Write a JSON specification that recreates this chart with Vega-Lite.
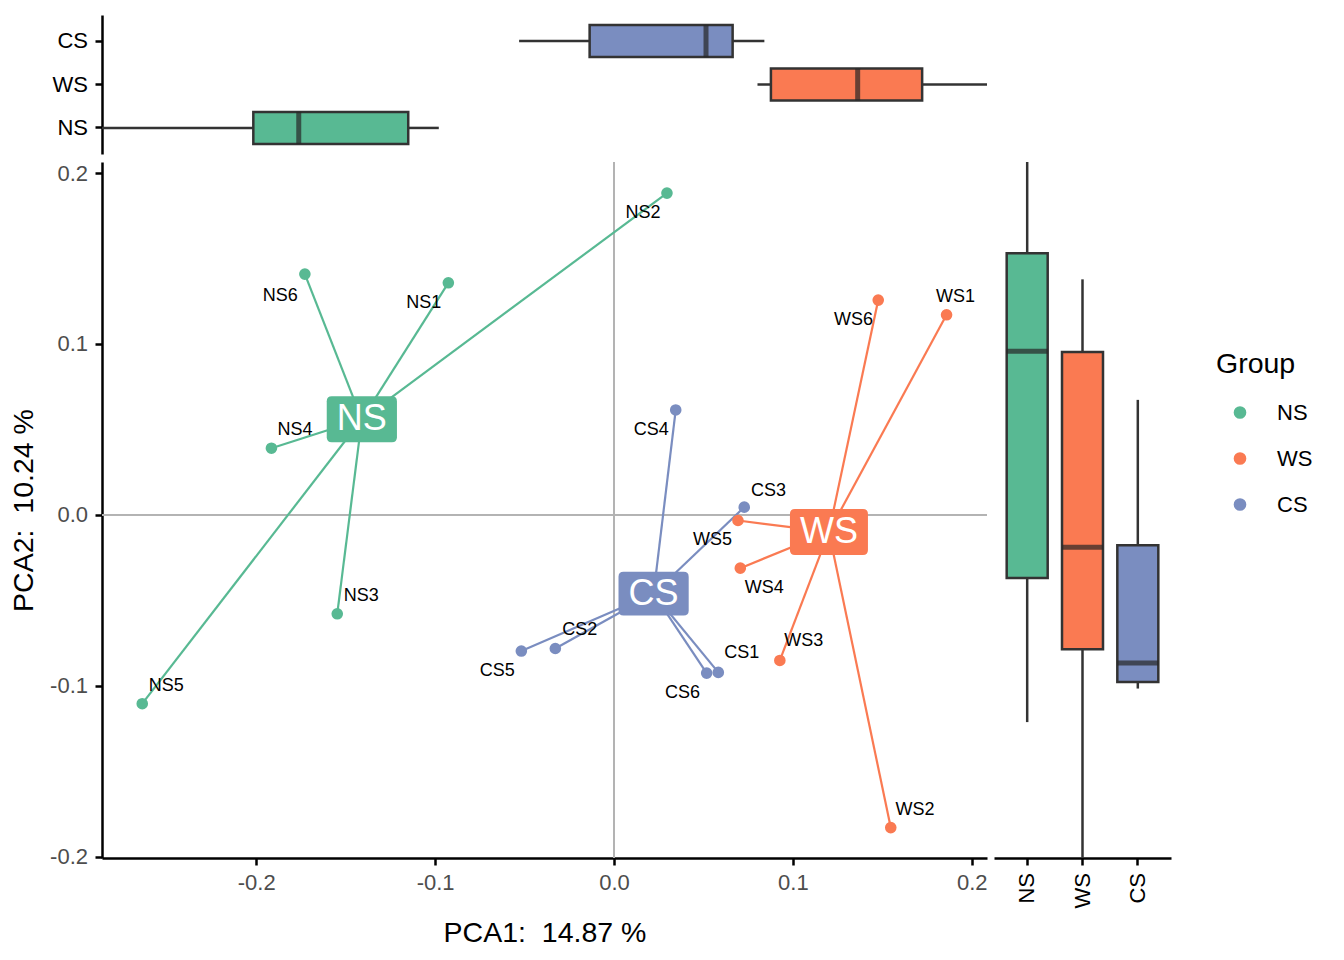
{
  "$schema": "https://vega.github.io/schema/vega-lite/v6.json",
  "padding": {"left": 9, "top": 15, "right": 5, "bottom": 5},
  "config": {
    "view": {"stroke": null},
    "font": "Liberation Sans",
    "locale": {"number": {"decimal": ".", "thousands": ",", "grouping": [3], "currency": ["$", ""], "minus": "-"}},
    "axis": {
      "grid": false, "domainColor": "black", "domainWidth": 2.5, "tickColor": "black", "tickWidth": 2.5,
      "tickSize": 7, "labelPadding": 7.5, "labelFontSize": 22, "labelColor": "black",
      "titleFontSize": 28.5, "titleFontWeight": "normal", "titleColor": "black", "labelFlush": false, "labelOverlap": false
    }
  },
  "datasets": {
    "pts": [
      {"id": "NS1", "Group": "NS", "x": -0.0926, "y": 0.1358, "lx": -0.1063, "ly": 0.1238},
      {"id": "NS2", "Group": "NS", "x": 0.0296, "y": 0.1883, "lx": 0.0162, "ly": 0.1766},
      {"id": "NS3", "Group": "NS", "x": -0.1547, "y": -0.0579, "lx": -0.1413, "ly": -0.0474},
      {"id": "NS4", "Group": "NS", "x": -0.1915, "y": 0.0390, "lx": -0.1783, "ly": 0.0497},
      {"id": "NS5", "Group": "NS", "x": -0.2637, "y": -0.1105, "lx": -0.2503, "ly": -0.1000},
      {"id": "NS6", "Group": "NS", "x": -0.1728, "y": 0.1409, "lx": -0.1866, "ly": 0.1282},
      {"id": "WS1", "Group": "WS", "x": 0.1859, "y": 0.1171, "lx": 0.1909, "ly": 0.1275},
      {"id": "WS2", "Group": "WS", "x": 0.1547, "y": -0.1830, "lx": 0.1682, "ly": -0.1725},
      {"id": "WS3", "Group": "WS", "x": 0.0927, "y": -0.0852, "lx": 0.1061, "ly": -0.0741},
      {"id": "WS4", "Group": "WS", "x": 0.0706, "y": -0.0312, "lx": 0.0840, "ly": -0.0429},
      {"id": "WS5", "Group": "WS", "x": 0.0693, "y": -0.0033, "lx": 0.0551, "ly": -0.0146},
      {"id": "WS6", "Group": "WS", "x": 0.1477, "y": 0.1257, "lx": 0.1339, "ly": 0.1140},
      {"id": "CS1", "Group": "CS", "x": 0.0583, "y": -0.0922, "lx": 0.0714, "ly": -0.0811},
      {"id": "CS2", "Group": "CS", "x": -0.0328, "y": -0.0782, "lx": -0.0191, "ly": -0.0674},
      {"id": "CS3", "Group": "CS", "x": 0.0728, "y": 0.0045, "lx": 0.0863, "ly": 0.0142},
      {"id": "CS4", "Group": "CS", "x": 0.0345, "y": 0.0614, "lx": 0.0208, "ly": 0.0497},
      {"id": "CS5", "Group": "CS", "x": -0.0518, "y": -0.0797, "lx": -0.0653, "ly": -0.0911},
      {"id": "CS6", "Group": "CS", "x": 0.0518, "y": -0.0926, "lx": 0.0383, "ly": -0.1043}
    ]
  },
  "bounds": "flush",
  "spacing": 8,
  "resolve": {"legend": {"color": "independent"}},
  "vconcat": [
    {
      "width": 885,
      "height": 139,
      "data": {"name": "pts"},
      "mark": {
        "type": "boxplot", "extent": 1.5, "outliers": false, "ticks": false, "size": 32,
        "box": {"stroke": "#333333", "strokeWidth": 2.5},
        "median": {"color": "#262626", "thickness": 5},
        "rule": {"color": "#333333", "strokeWidth": 2.5}
      },
      "encoding": {
        "x": {"field": "x", "type": "quantitative", "scale": {"nice": false, "zero": false, "padding": 0}, "axis": null},
        "y": {"field": "Group", "type": "nominal", "sort": ["CS", "WS", "NS"], "scale": {"paddingInner": 0, "paddingOuter": 0.1}, "axis": {"title": null}},
        "color": {"field": "Group", "type": "nominal", "scale": {"domain": ["NS", "WS", "CS"], "range": ["#58B993", "#FA7A52", "#7A8DC0"]}, "legend": null}
      }
    },
    {
      "bounds": "flush",
      "spacing": 7,
      "resolve": {"legend": {"color": "independent"}},
      "hconcat": [
        {
          "width": 885,
          "height": 696,
          "data": {"name": "pts"},
          "layer": [
            {
              "mark": {"type": "rule", "color": "#B3B3B3", "strokeWidth": 1.5},
              "encoding": {
                "x": {"datum": 0, "type": "quantitative", "scale": {"domain": [-0.2862, 0.2085], "nice": false, "zero": false}, "title": "PCA1: \u00a014.87 %"}
              }
            },
            {
              "mark": {"type": "rule", "color": "#B3B3B3", "strokeWidth": 1.5},
              "encoding": {
                "y": {"datum": 0, "type": "quantitative", "scale": {"domain": [-0.2008, 0.2065], "nice": false, "zero": false}, "title": "PCA2: \u00a010.24 %"}
              }
            },
            {
              "transform": [
                {"joinaggregate": [{"op": "mean", "field": "x", "as": "cx"}, {"op": "mean", "field": "y", "as": "cy"}], "groupby": ["Group"]}
              ],
              "mark": {"type": "rule", "strokeWidth": 2.2},
              "encoding": {
                "x": {"field": "x", "type": "quantitative", "scale": {"domain": [-0.2862, 0.2085], "nice": false, "zero": false}, "title": "PCA1: \u00a014.87 %"},
                "y": {"field": "y", "type": "quantitative", "scale": {"domain": [-0.2008, 0.2065], "nice": false, "zero": false}, "title": "PCA2: \u00a010.24 %"},
                "x2": {"field": "cx"},
                "y2": {"field": "cy"},
                "stroke": {"field": "Group", "type": "nominal", "scale": {"domain": ["NS", "WS", "CS"], "range": ["#58B993", "#FA7A52", "#7A8DC0"]}, "legend": null}
              }
            },
            {
              "mark": {"type": "point", "filled": true, "opacity": 1, "size": 135},
              "encoding": {
                "x": {
                  "field": "x", "type": "quantitative", "scale": {"domain": [-0.2862, 0.2085], "nice": false, "zero": false}, "title": "PCA1: \u00a014.87 %",
                  "axis": {"values": [-0.2, -0.1, 0, 0.1, 0.2], "format": ".1f", "labelColor": "#4D4D4D", "titlePadding": 25}
                },
                "y": {
                  "field": "y", "type": "quantitative", "scale": {"domain": [-0.2008, 0.2065], "nice": false, "zero": false}, "title": "PCA2: \u00a010.24 %",
                  "axis": {"values": [-0.2, -0.1, 0, 0.1, 0.2], "format": ".1f", "labelColor": "#4D4D4D", "titlePadding": 11}
                },
                "color": {
                  "field": "Group", "type": "nominal", "scale": {"domain": ["NS", "WS", "CS"], "range": ["#58B993", "#FA7A52", "#7A8DC0"]},
                  "legend": {
                    "title": "Group", "orient": "none", "legendX": 1114, "legendY": 188, "padding": 0,
                    "titleFontSize": 28.5, "titleFontWeight": "normal", "titleColor": "black", "titlePadding": 23,
                    "labelFontSize": 22, "labelColor": "black", "labelOffset": 26,
                    "symbolType": "circle", "symbolSize": 160, "symbolStrokeWidth": 0, "symbolOffset": 13, "rowPadding": 24
                  }
                }
              }
            },
            {
              "mark": {"type": "text", "fontSize": 18, "color": "black", "align": "center", "baseline": "middle"},
              "encoding": {
                "x": {"field": "lx", "type": "quantitative", "scale": {"domain": [-0.2862, 0.2085], "nice": false, "zero": false}, "title": "PCA1: \u00a014.87 %"},
                "y": {"field": "ly", "type": "quantitative", "scale": {"domain": [-0.2008, 0.2065], "nice": false, "zero": false}, "title": "PCA2: \u00a010.24 %"},
                "text": {"field": "id"}
              }
            },
            {
              "transform": [
                {"aggregate": [{"op": "mean", "field": "x", "as": "cx"}, {"op": "mean", "field": "y", "as": "cy"}], "groupby": ["Group"]}
              ],
              "layer": [
                {
                  "mark": {"type": "point", "filled": true, "opacity": 1, "size": 6084, "strokeWidth": 0},
                  "encoding": {
                    "x": {"field": "cx", "type": "quantitative", "scale": {"domain": [-0.2862, 0.2085], "nice": false, "zero": false}, "title": "PCA1: \u00a014.87 %"},
                    "y": {"field": "cy", "type": "quantitative", "scale": {"domain": [-0.2008, 0.2065], "nice": false, "zero": false}, "title": "PCA2: \u00a010.24 %"},
                    "fill": {"field": "Group", "type": "nominal", "scale": {"domain": ["NS", "WS", "CS"], "range": ["#58B993", "#FA7A52", "#7A8DC0"]}, "legend": null},
                    "shape": {
                      "field": "Group", "type": "nominal", "legend": null,
                      "scale": {
                        "domain": ["NS", "WS", "CS"],
                        "range": [
                          "M-0.772,-0.59L0.772,-0.59Q0.9,-0.59 0.9,-0.462L0.9,0.462Q0.9,0.59 0.772,0.59L-0.772,0.59Q-0.9,0.59 -0.9,0.462L-0.9,-0.462Q-0.9,-0.59 -0.772,-0.59Z",
                          "M-0.872,-0.59L0.872,-0.59Q1,-0.59 1,-0.462L1,0.462Q1,0.59 0.872,0.59L-0.872,0.59Q-1,0.59 -1,0.462L-1,-0.462Q-1,-0.59 -0.872,-0.59Z",
                          "M-0.772,-0.56L0.772,-0.56Q0.9,-0.56 0.9,-0.432L0.9,0.432Q0.9,0.56 0.772,0.56L-0.772,0.56Q-0.9,0.56 -0.9,0.432L-0.9,-0.432Q-0.9,-0.56 -0.772,-0.56Z"
                        ]
                      }
                    }
                  }
                },
                {
                  "mark": {"type": "text", "fontSize": 36, "color": "white", "align": "center", "baseline": "middle"},
                  "encoding": {
                    "x": {"field": "cx", "type": "quantitative", "scale": {"domain": [-0.2862, 0.2085], "nice": false, "zero": false}, "title": "PCA1: \u00a014.87 %"},
                    "y": {"field": "cy", "type": "quantitative", "scale": {"domain": [-0.2008, 0.2065], "nice": false, "zero": false}, "title": "PCA2: \u00a010.24 %"},
                    "text": {"field": "Group"}
                  }
                }
              ]
            }
          ]
        },
        {
          "width": 177,
          "height": 696,
          "data": {"name": "pts"},
          "mark": {
            "type": "boxplot", "extent": 1.5, "outliers": false, "ticks": false, "size": 41,
            "box": {"stroke": "#333333", "strokeWidth": 2.5},
            "median": {"color": "#262626", "thickness": 5},
            "rule": {"color": "#333333", "strokeWidth": 2.5}
          },
          "encoding": {
            "x": {"field": "Group", "type": "nominal", "sort": ["NS", "WS", "CS"], "scale": {"paddingInner": 0, "paddingOuter": 0.1}, "axis": {"title": null, "labelAngle": 270}},
            "y": {"field": "y", "type": "quantitative", "scale": {"nice": false, "zero": false, "padding": 0}, "axis": null},
            "color": {"field": "Group", "type": "nominal", "scale": {"domain": ["NS", "WS", "CS"], "range": ["#58B993", "#FA7A52", "#7A8DC0"]}, "legend": null}
          }
        }
      ]
    }
  ]
}
